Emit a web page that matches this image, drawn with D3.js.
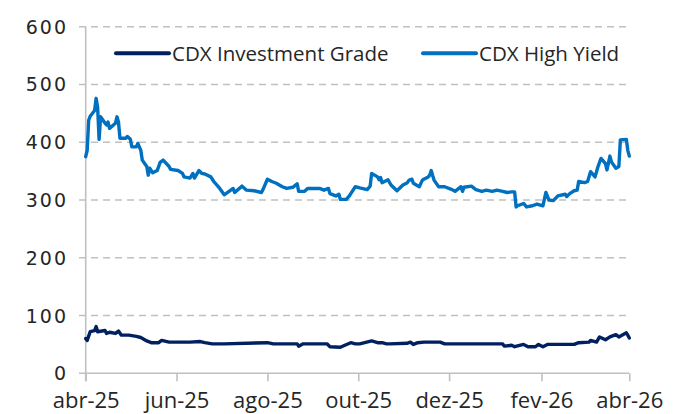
<!DOCTYPE html>
<html>
<meta charset="utf-8">
<style>
body { margin: 0; background: #fff; }
.ytick { font-family: 'DejaVu Sans', sans-serif; font-size: 19px; fill: #262626; letter-spacing: 2px; }
.xtick { font-family: 'Open Sans', sans-serif; font-size: 22px; fill: #262626; }
.legend { font-family: 'Open Sans', sans-serif; font-size: 20.5px; fill: #262626; }
</style>
<body>
<svg id="chart" width="683" height="414"></svg>
<script src="https://d3js.org/d3.v7.min.js"></script>
<script>

// CDX High Yield (bps)
var hySeries = [
  ["2025-04-01",375],["2025-04-02",386],["2025-04-03",438],["2025-04-04",445],["2025-04-07",455],
  ["2025-04-08",476],["2025-04-09",461],["2025-04-10",405],["2025-04-11",444],["2025-04-14",433],
  ["2025-04-15",430],["2025-04-16",435],["2025-04-17",424],["2025-04-21",433],["2025-04-22",444],
  ["2025-04-23",435],["2025-04-24",407],["2025-04-28",407],["2025-04-29",410],["2025-05-01",405],
  ["2025-05-02",392],["2025-05-05",392],["2025-05-06",398],["2025-05-08",386],["2025-05-09",369],
  ["2025-05-12",358],["2025-05-13",343],["2025-05-14",355],["2025-05-16",347],["2025-05-19",351],
  ["2025-05-21",365],["2025-05-23",369],["2025-05-27",358],["2025-05-28",353],["2025-06-02",351],
  ["2025-06-05",346],["2025-06-06",340],["2025-06-10",338],["2025-06-12",346],["2025-06-13",338],
  ["2025-06-16",351],["2025-06-18",346],["2025-06-20",345],["2025-06-24",340],["2025-06-26",332],
  ["2025-06-30",320],["2025-07-03",309],["2025-07-09",320],["2025-07-10",313],["2025-07-15",324],
  ["2025-07-18",317],["2025-07-23",316],["2025-07-28",313],["2025-07-29",318],["2025-08-01",336],
  ["2025-08-04",332],["2025-08-07",329],["2025-08-11",323],["2025-08-14",320],["2025-08-18",322],
  ["2025-08-21",328],["2025-08-22",315],["2025-08-26",315],["2025-08-28",320],["2025-09-02",320],
  ["2025-09-05",320],["2025-09-08",317],["2025-09-11",320],["2025-09-12",311],["2025-09-16",307],
  ["2025-09-18",310],["2025-09-19",301],["2025-09-23",301],["2025-09-25",307],["2025-09-26",311],
  ["2025-09-29",323],["2025-10-02",321],["2025-10-07",318],["2025-10-09",324],["2025-10-10",346],
  ["2025-10-14",340],["2025-10-15",335],["2025-10-16",339],["2025-10-17",330],["2025-10-21",335],
  ["2025-10-23",326],["2025-10-27",316],["2025-10-31",326],["2025-11-03",330],["2025-11-04",334],
  ["2025-11-06",336],["2025-11-07",329],["2025-11-11",323],["2025-11-13",334],["2025-11-14",336],
  ["2025-11-17",340],["2025-11-18",343],["2025-11-19",351],["2025-11-20",342],["2025-11-21",334],
  ["2025-11-24",323],["2025-11-28",323],["2025-12-03",318],["2025-12-05",315],["2025-12-09",323],
  ["2025-12-10",315],["2025-12-11",322],["2025-12-16",324],["2025-12-19",318],["2025-12-23",315],
  ["2025-12-26",317],["2025-12-30",315],["2026-01-02",317],["2026-01-06",315],["2026-01-09",313],
  ["2026-01-12",314],["2026-01-14",314],["2026-01-15",288],["2026-01-16",290],["2026-01-20",294],
  ["2026-01-22",288],["2026-01-26",290],["2026-01-29",293],["2026-02-02",290],["2026-02-04",313],
  ["2026-02-06",300],["2026-02-09",299],["2026-02-12",307],["2026-02-17",310],["2026-02-18",306],
  ["2026-02-20",311],["2026-02-23",316],["2026-02-25",317],["2026-02-26",332],["2026-03-02",330],
  ["2026-03-04",332],["2026-03-06",349],["2026-03-09",340],["2026-03-11",358],["2026-03-13",372],
  ["2026-03-16",363],["2026-03-17",352],["2026-03-19",376],["2026-03-20",366],["2026-03-23",355],
  ["2026-03-25",358],["2026-03-26",404],["2026-03-30",405],["2026-03-31",386],["2026-04-01",376]
];

// CDX Investment Grade (bps)
var igSeries = [
  ["2025-04-01",60],["2025-04-02",57],["2025-04-04",72],["2025-04-07",74],["2025-04-08",81],
  ["2025-04-09",72],["2025-04-14",74],["2025-04-15",69],["2025-04-17",71],["2025-04-21",69],
  ["2025-04-23",73],["2025-04-25",66],["2025-04-30",66],["2025-05-05",64],["2025-05-08",62],
  ["2025-05-12",56],["2025-05-15",53],["2025-05-20",53],["2025-05-22",57],["2025-05-27",54],
  ["2025-06-02",54],["2025-06-10",54],["2025-06-17",55],["2025-06-20",53],["2025-06-25",51],
  ["2025-07-03",51],["2025-08-01",53],["2025-08-05",51],["2025-08-21",51],["2025-08-22",47],
  ["2025-08-25",51],["2025-09-10",51],["2025-09-12",46],["2025-09-19",45],["2025-09-22",48.5],
  ["2025-09-26",53],["2025-09-29",51],["2025-10-02",51],["2025-10-10",56],["2025-10-14",53],
  ["2025-10-17",53],["2025-10-20",51],["2025-10-22",51],["2025-11-03",52],["2025-11-05",54],
  ["2025-11-07",50],["2025-11-10",53],["2025-11-14",54],["2025-11-25",54],["2025-11-28",51],
  ["2026-01-06",51],["2026-01-07",47],["2026-01-12",48.5],["2026-01-14",46],["2026-01-20",50],
  ["2026-01-23",46],["2026-01-28",46],["2026-01-30",50],["2026-02-02",46],["2026-02-05",50],
  ["2026-02-23",50],["2026-02-26",53],["2026-03-05",54],["2026-03-06",57],["2026-03-10",54],
  ["2026-03-12",63],["2026-03-16",58],["2026-03-19",63],["2026-03-23",67],["2026-03-25",63],
  ["2026-03-30",70],["2026-03-31",66],["2026-04-01",61]
];

var yTicks = [0, 100, 200, 300, 400, 500, 600];
var xTickDates = ["2025-04-01","2025-06-01","2025-08-01","2025-10-01","2025-12-01","2026-02-01","2026-04-01"];
var xTickLabels = ["abr-25","jun-25","ago-25","out-25","dez-25","fev-26","abr-26"];
var seriesNames = ["CDX Investment Grade", "CDX High Yield"];
var seriesColors = ["#002060", "#0070c0"];

var parseDate = d3.timeParse("%Y-%m-%d");
var svg = d3.select("#chart");

var x = d3.scaleTime()
    .domain([parseDate("2025-04-01"), parseDate("2026-04-01")])
    .range([85.7, 629.3]);
var y = d3.scaleLinear().domain([0, 600]).range([373.3, 26.7]);

// gridlines
svg.append("g").selectAll("line")
    .data(yTicks.slice(1))
    .enter().append("line")
    .attr("x1", 79).attr("x2", 627)
    .attr("y1", function(d) { return y(d); })
    .attr("y2", function(d) { return y(d); })
    .attr("stroke", "#c0c0c0")
    .attr("stroke-width", 1.6)
    .attr("stroke-dasharray", "7,5");

// y axis line
svg.append("line")
    .attr("x1", x.range()[0]).attr("x2", x.range()[0])
    .attr("y1", y(600)).attr("y2", y(0) + 8)
    .attr("stroke", "#c0c0c0").attr("stroke-width", 1.6);

// x axis
var xAxis = d3.axisBottom(x)
    .tickValues(xTickDates.map(parseDate))
    .tickFormat(function(d, i) { return xTickLabels[i]; })
    .tickSize(8)
    .tickSizeOuter(0);

var gx = svg.append("g")
    .attr("transform", "translate(0," + y(0) + ")")
    .call(xAxis);
gx.select(".domain").remove();
gx.selectAll(".tick line").attr("stroke", "#c0c0c0").attr("stroke-width", 1.6);
gx.selectAll(".tick text")
    .attr("class", "xtick")
    .attr("y", 34.5).attr("dy", 0)
    .attr("font-family", null).attr("font-size", null).attr("fill", null);
gx.append("line")
    .attr("x1", 79).attr("x2", x.range()[1])
    .attr("stroke", "#c0c0c0").attr("stroke-width", 1.6);

// y labels
svg.append("g").selectAll("text")
    .data(yTicks)
    .enter().append("text")
    .attr("class", "ytick")
    .attr("x", 68)
    .attr("y", function(d) { return y(d) + 7; })
    .attr("text-anchor", "end")
    .text(function(d) { return d; });

// lines
var line = d3.line()
    .x(function(d) { return x(parseDate(d[0])); })
    .y(function(d) { return y(d[1]); });

[igSeries, hySeries].forEach(function(s, i) {
  svg.append("path")
      .datum(s)
      .attr("fill", "none")
      .attr("stroke", seriesColors[i])
      .attr("stroke-width", 3.4)
      .attr("stroke-linejoin", "round")
      .attr("stroke-linecap", "round")
      .attr("d", line);
});

// legend
var legendX = [116, 423];
seriesNames.forEach(function(name, i) {
  svg.append("line")
      .attr("x1", legendX[i]).attr("x2", legendX[i] + 53)
      .attr("y1", 53.3).attr("y2", 53.3)
      .attr("stroke", seriesColors[i]).attr("stroke-width", 4)
      .attr("stroke-linecap", "round");
  svg.append("text")
      .attr("class", "legend")
      .attr("x", legendX[i] + 56)
      .attr("y", 60.5)
      .text(name);
});

</script>
</body>
</html>
